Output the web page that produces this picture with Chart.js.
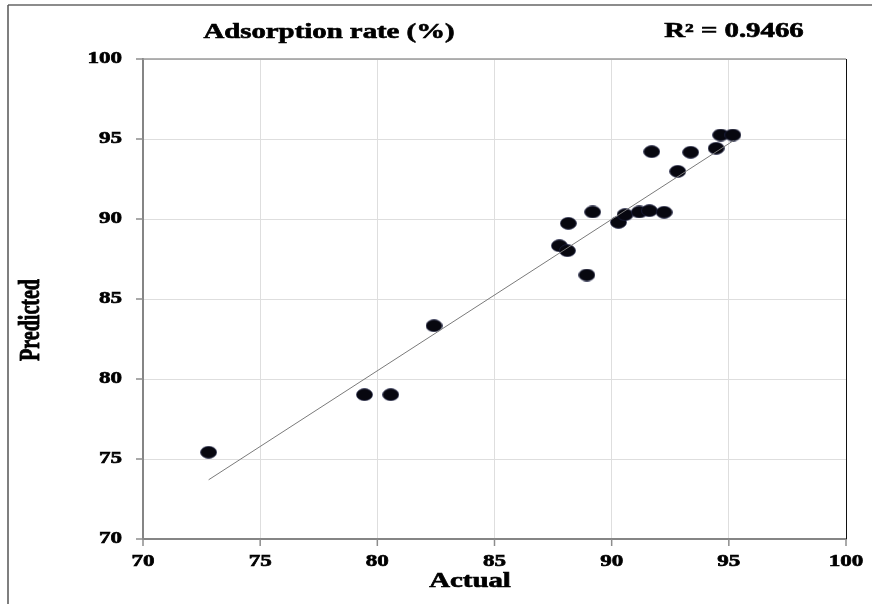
<!DOCTYPE html>
<html>
<head>
<meta charset="utf-8">
<script src="https://cdn.jsdelivr.net/npm/chart.js@4"></script>
<style>
  body { margin: 0; background: #fff; }
  #wrap { width: 872px; height: 604px; }
</style>
</head>
<body>
<div id="wrap"><canvas id="fitChart"></canvas></div>
<script>
// values
const actual = [72.80, 79.45, 80.57, 82.42, 87.77, 88.11, 88.15, 88.94, 89.19, 90.29,
  90.57, 91.18, 91.61, 92.24, 91.71, 92.82, 93.37, 94.46, 94.65, 95.17];
const predicted = [75.42, 79.02, 79.02, 83.33, 88.33, 88.02, 89.73, 86.50, 90.44, 89.79,
  90.27, 90.44, 90.52, 90.42, 94.21, 92.98, 94.17, 94.42, 95.25, 95.25];
const trendActual = [72.8, 95.2];
const trendPredicted = [73.7, 94.9];
const xTicks = [70, 75, 80, 85, 90, 95, 100];
const yTicks = [70, 75, 80, 85, 90, 95, 100];
const titleText = "Adsorption rate (%)";
const r2Text = "R\u00B2 = 0.9466";
const xTitle = "Actual";
const yTitle = "Predicted";

// the original figure is stretched sideways, so the text is too
const SX = 1.44;
const FONT = "'Liberation Serif', 'Times New Roman', serif";

function drawText(ctx, text, x, y, size, align, rotated) {
  ctx.save();
  ctx.translate(x, y);
  if (rotated) {
    ctx.rotate(-Math.PI / 2);
    ctx.scale(1, SX);
  } else {
    ctx.scale(SX, 1);
  }
  ctx.font = "bold " + size + "px " + FONT;
  ctx.fillStyle = "#000";
  ctx.strokeStyle = "#000";
  ctx.lineWidth = 0.6;
  ctx.textAlign = align;
  ctx.textBaseline = "middle";
  ctx.fillText(text, 0, 0);
  ctx.strokeText(text, 0, 0);
  ctx.restore();
}

// elliptical marker
const dot = document.createElement("canvas");
dot.width = 17;
dot.height = 13;
(function () {
  const c = dot.getContext("2d");
  c.beginPath();
  c.ellipse(8.5, 6.5, 8, 6, 0, 0, Math.PI * 2);
  c.fillStyle = "#07070f";
  c.fill();
  c.lineWidth = 0.7;
  c.strokeStyle = "#22264a";
  c.stroke();
})();

const decor = {
  id: "decor",
  beforeDraw(chart) {
    const ctx = chart.ctx;
    ctx.save();
    ctx.strokeStyle = "#8c8c8c";
    ctx.lineWidth = 2;
    ctx.beginPath();
    ctx.moveTo(8, 5);
    ctx.lineTo(872, 5);
    ctx.stroke();
    ctx.strokeStyle = "#555";
    ctx.lineWidth = 1.5;
    ctx.beginPath();
    ctx.moveTo(8, 5);
    ctx.lineTo(8, 604);
    ctx.stroke();
    ctx.restore();
  },
  beforeDatasetsDraw(chart) {
    const ctx = chart.ctx;
    const a = chart.chartArea;
    const x = chart.scales.x;
    const y = chart.scales.y;
    ctx.save();
    // top and right edge of the plot
    ctx.strokeStyle = "#9a9a9a";
    ctx.lineWidth = 1.5;
    ctx.beginPath();
    ctx.moveTo(a.left, a.top);
    ctx.lineTo(a.right, a.top);
    ctx.stroke();
    ctx.strokeStyle = "#111";
    ctx.lineWidth = 1;
    ctx.beginPath();
    ctx.moveTo(a.right + 0.5, a.top);
    ctx.lineTo(a.right + 0.5, a.bottom);
    ctx.stroke();
    // tick marks
    ctx.strokeStyle = "#8c8c8c";
    ctx.lineWidth = 1.5;
    yTicks.forEach(v => {
      const py = y.getPixelForValue(v);
      ctx.beginPath();
      ctx.moveTo(a.left - 7, py);
      ctx.lineTo(a.left, py);
      ctx.stroke();
    });
    xTicks.forEach(v => {
      const px = x.getPixelForValue(v);
      ctx.beginPath();
      ctx.moveTo(px, a.bottom);
      ctx.lineTo(px, a.bottom + 7);
      ctx.stroke();
    });
    ctx.restore();
  },
  afterDraw(chart) {
    const ctx = chart.ctx;
    const a = chart.chartArea;
    const x = chart.scales.x;
    const y = chart.scales.y;
    yTicks.forEach(v => drawText(ctx, String(v), 122, y.getPixelForValue(v), 16, "right", false));
    xTicks.forEach(v => drawText(ctx, String(v), x.getPixelForValue(v), a.bottom + 23, 16, "center", false));
    drawText(ctx, titleText, 329, 33, 20, "center", false);
    drawText(ctx, r2Text, 734, 32, 20, "center", false);
    drawText(ctx, xTitle, 470, 582, 20, "center", false);
    drawText(ctx, yTitle, 32, 320, 20, "center", true);
  }
};

const ctx = document.getElementById("fitChart").getContext("2d");

new Chart(ctx, {
  type: "scatter",
  data: {
    datasets: [
      {
        label: "Trend",
        type: "line",
        data: trendActual.map((v, i) => ({ x: v, y: trendPredicted[i] })),
        borderColor: "#7a7a7a",
        borderWidth: 1,
        pointRadius: 0,
        fill: false,
      },
      {
        label: "Samples",
        data: actual.map((v, i) => ({ x: v, y: predicted[i] })),
        pointStyle: dot,
        pointRadius: 8,
      },
    ],
  },
  options: {
    responsive: true,
    maintainAspectRatio: false,
    animation: false,
    layout: { padding: { left: 143, top: 59, right: 26, bottom: 65 } },
    plugins: {
      legend: { display: false },
      tooltip: { enabled: false },
    },
    scales: {
      x: {
        type: "linear",
        min: 70,
        max: 100,
        ticks: { display: false, stepSize: 5 },
        grid: { color: "#dedede", lineWidth: 1, drawTicks: false },
        border: { color: "#858585", width: 2 },
        afterFit: s => { s.height = 0; },
      },
      y: {
        type: "linear",
        min: 70,
        max: 100,
        ticks: { display: false, stepSize: 5 },
        grid: { color: "#dedede", lineWidth: 1, drawTicks: false },
        border: { color: "#858585", width: 2 },
        afterFit: s => { s.width = 0; },
      },
    },
  },
  plugins: [decor],
});
</script>
</body>
</html>
